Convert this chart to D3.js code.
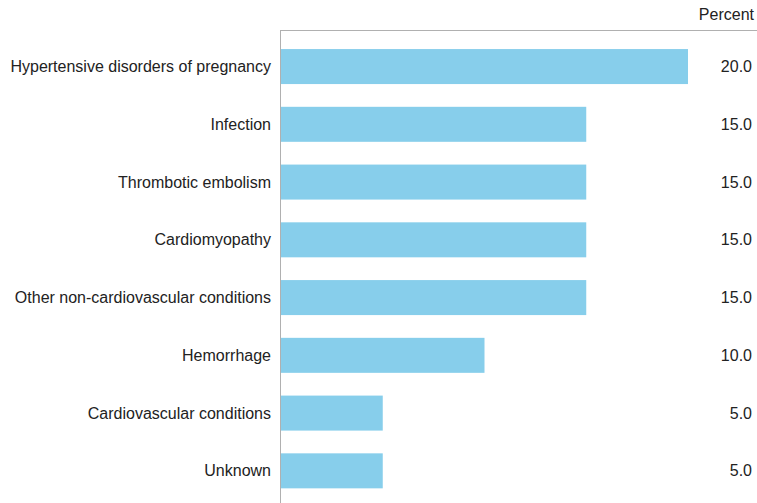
<!DOCTYPE html>
<html><head><meta charset="utf-8">
<script src="https://cdn.jsdelivr.net/npm/d3@7"></script>
<style>body{margin:0;background:#fff}svg{display:block}text{font-family:"Liberation Sans",Arial,sans-serif;font-size:16px;fill:#222}</style>
</head><body><svg id="c" width="757" height="503"></svg>
<script>
const categories = ["Hypertensive disorders of pregnancy","Infection","Thrombotic embolism","Cardiomyopathy","Other non-cardiovascular conditions","Hemorrhage","Cardiovascular conditions","Unknown"];
const values = [20.0,15.0,15.0,15.0,15.0,10.0,5.0,5.0];
const unitLabel = "Percent";

const svg = d3.select("#c");
const x = d3.scaleLinear().domain([0,20]).range([281,688]);
const y = d3.scaleBand().domain(categories).range([30,507.4]).paddingInner(0.394).paddingOuter(0.33);

svg.append("line").attr("x1",280).attr("x2",757).attr("y1",30.5).attr("y2",30.5).attr("stroke","#b0b0b0");
svg.append("line").attr("x1",280.5).attr("x2",280.5).attr("y1",30).attr("y2",503).attr("stroke","#b0b0b0");

svg.selectAll("rect.bar").data(categories).join("rect").attr("class","bar")
  .attr("x",x(0)).attr("y",d=>y(d)).attr("width",(d,i)=>x(values[i])-x(0)).attr("height",y.bandwidth())
  .attr("fill","#87ceeb");

svg.selectAll("text.cat").data(categories).join("text").attr("class","cat")
  .attr("x",271).attr("y",d=>y(d)+y.bandwidth()/2).attr("dy","0.35em").attr("text-anchor","end").text(d=>d);

svg.selectAll("text.val").data(values).join("text").attr("class","val")
  .attr("x",752).attr("y",(d,i)=>y(categories[i])+y.bandwidth()/2).attr("dy","0.35em").attr("text-anchor","end").text(d=>d3.format(".1f")(d));

svg.append("text").attr("x",754).attr("y",20).attr("text-anchor","end").text(unitLabel);
</script></body></html>
